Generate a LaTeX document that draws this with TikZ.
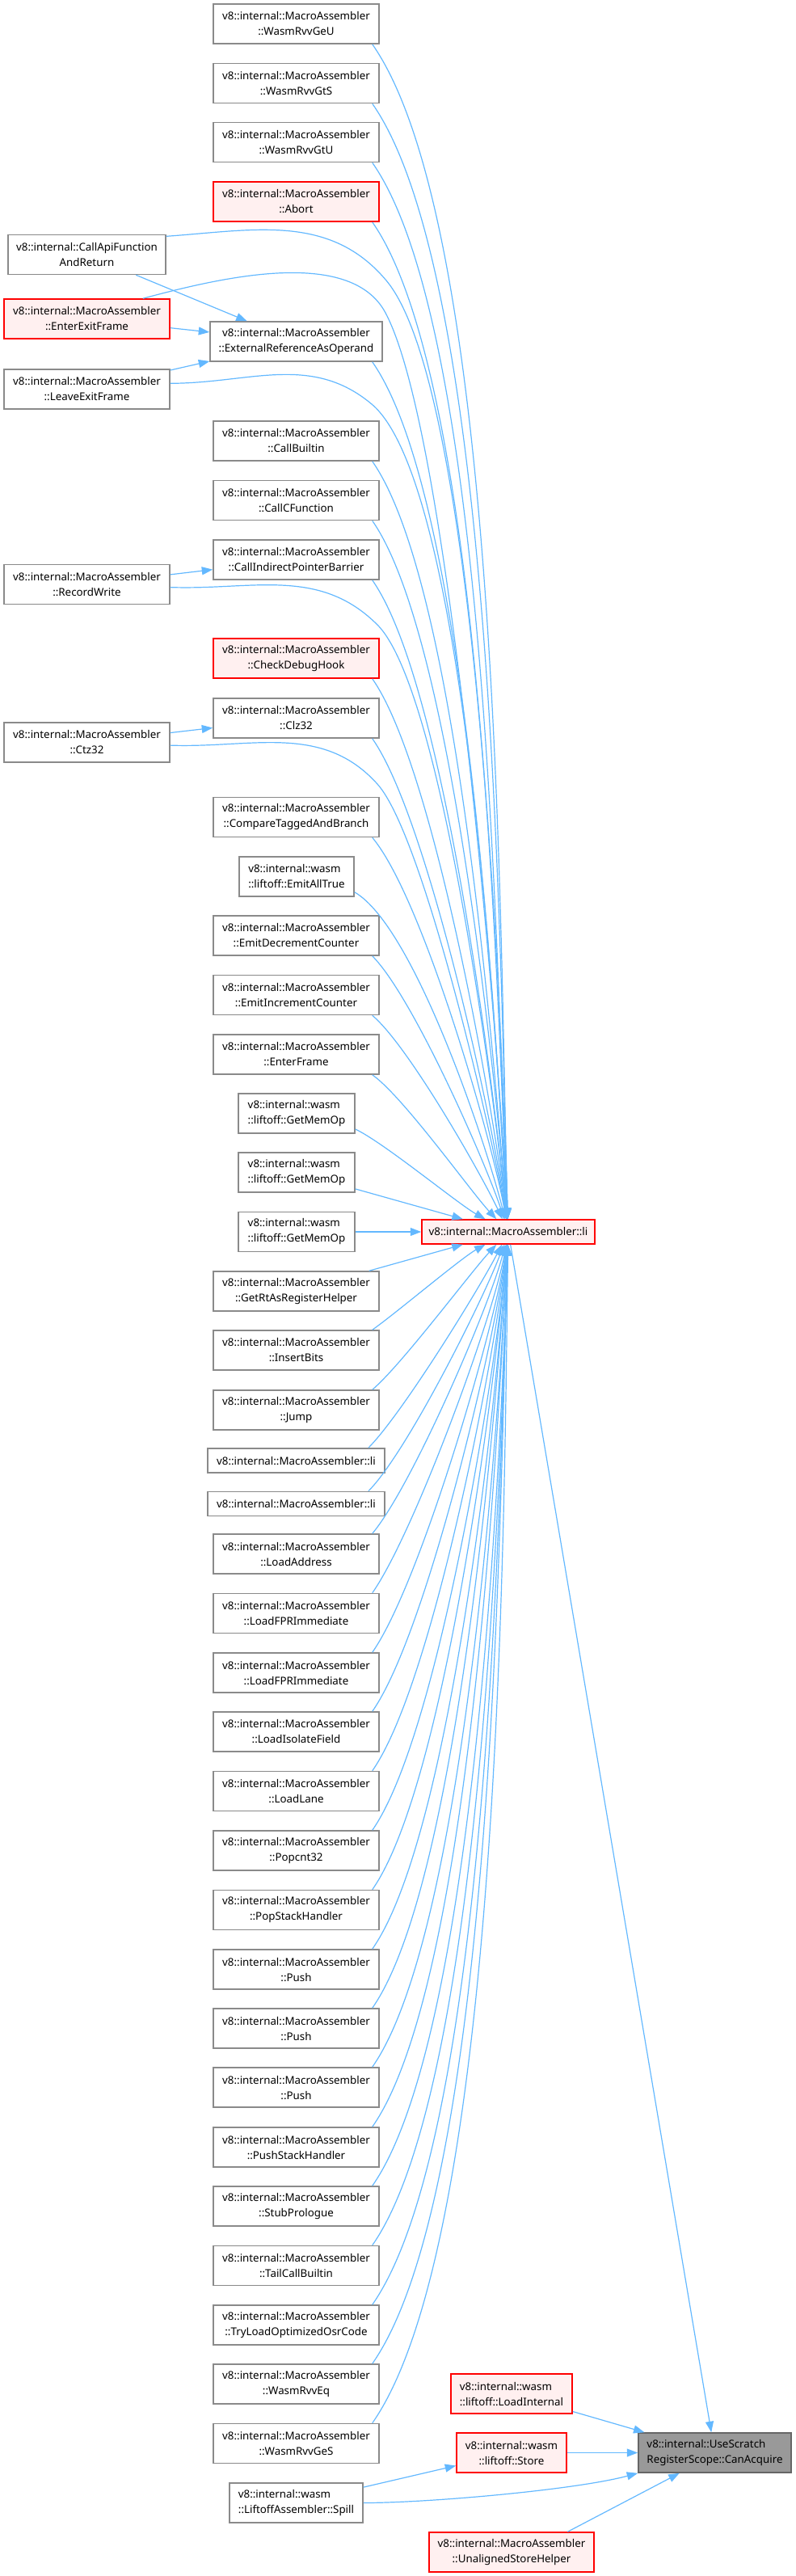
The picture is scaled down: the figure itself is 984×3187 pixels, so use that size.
\documentclass[tikz,border=0pt]{standalone}
\usepackage{fontspec}
\setmainfont{Noto Sans}
\usetikzlibrary{arrows.meta}
\definecolor{edgeblue}{HTML}{63B8FF}
\definecolor{boxline}{HTML}{8A8A8A}
\definecolor{hotline}{HTML}{FF0000}
\definecolor{hotfill}{HTML}{FFF0F0}
\definecolor{rootfill}{HTML}{999999}
\definecolor{rootline}{HTML}{666666}

\begin{document}
\begin{tikzpicture}[x=0.1pt,y=-0.1pt,fnbox/.style={draw=boxline,line width=0.15pt,fill=white,align=center,font=\fontsize{1.3333}{1.9}\selectfont,inner sep=0.15pt,minimum width=205*0.1pt,minimum height=49*0.1pt},wasmbox/.style={fnbox,align=left},onebox/.style={fnbox,minimum width=219*0.1pt,minimum height=30*0.1pt},hotbox/.style={fnbox,draw=hotline,fill=hotfill},rootbox/.style={fnbox,draw=rootline,fill=rootfill,align=left},edge/.style={draw=edgeblue,line width=0.12pt,-{Triangle[length=1.35pt,width=1pt]}}]
\useasboundingbox (0,0) rectangle (984,3187);
\node[fnbox] (geu) at (366.5,29.5) {v8::internal::MacroAssembler\\::WasmRvvGeU};
\node[fnbox] (gts) at (366.5,103) {v8::internal::MacroAssembler\\::WasmRvvGtS};
\node[fnbox] (gtu) at (366.5,176) {v8::internal::MacroAssembler\\::WasmRvvGtU};
\node[hotbox] (abort) at (366.5,249.5) {v8::internal::MacroAssembler\\::Abort};
\node[fnbox, minimum width=195*0.1pt] (callapi) at (107.5,315) {v8::internal::CallApiFunction\\AndReturn};
\node[hotbox] (enterexit) at (107.5,394.5) {v8::internal::MacroAssembler\\::EnterExitFrame};
\node[fnbox, minimum width=213*0.1pt] (extref) at (366.5,422.5) {v8::internal::MacroAssembler\\::ExternalReferenceAsOperand};
\node[fnbox] (leaveexit) at (107.5,481.5) {v8::internal::MacroAssembler\\::LeaveExitFrame};
\node[fnbox] (callbuiltin) at (366.5,545.5) {v8::internal::MacroAssembler\\::CallBuiltin};
\node[fnbox] (callcfn) at (366.5,619) {v8::internal::MacroAssembler\\::CallCFunction};
\node[fnbox] (cipb) at (366.5,692.5) {v8::internal::MacroAssembler\\::CallIndirectPointerBarrier};
\node[fnbox] (recordwrite) at (107.5,723) {v8::internal::MacroAssembler\\::RecordWrite};
\node[hotbox] (debughook) at (366.5,814.5) {v8::internal::MacroAssembler\\::CheckDebugHook};
\node[fnbox] (clz) at (366.5,888.5) {v8::internal::MacroAssembler\\::Clz32};
\node[fnbox] (ctz) at (107.5,918.5) {v8::internal::MacroAssembler\\::Ctz32};
\node[fnbox] (cmptagged) at (366.5,1011) {v8::internal::MacroAssembler\\::CompareTaggedAndBranch};
\node[wasmbox, minimum width=142*0.1pt] (alltrue) at (367,1084.5) {v8::internal::wasm\\::liftoff::EmitAllTrue};
\node[fnbox] (emitdec) at (366.5,1157.5) {v8::internal::MacroAssembler\\::EmitDecrementCounter};
\node[fnbox] (emitinc) at (366.5,1231) {v8::internal::MacroAssembler\\::EmitIncrementCounter};
\node[fnbox] (enterframe) at (366.5,1304.5) {v8::internal::MacroAssembler\\::EnterFrame};
\node[wasmbox, minimum width=144*0.1pt] (memopa) at (367,1377.5) {v8::internal::wasm\\::liftoff::GetMemOp};
\node[wasmbox, minimum width=144*0.1pt] (memopb) at (367,1450.5) {v8::internal::wasm\\::liftoff::GetMemOp};
\node[wasmbox, minimum width=144*0.1pt] (memopc) at (367,1524) {v8::internal::wasm\\::liftoff::GetMemOp};
\node[fnbox] (rtashelper) at (366.5,1597.5) {v8::internal::MacroAssembler\\::GetRtAsRegisterHelper};
\node[fnbox] (insertbits) at (366.5,1670.5) {v8::internal::MacroAssembler\\::InsertBits};
\node[fnbox] (jump) at (366.5,1744.5) {v8::internal::MacroAssembler\\::Jump};
\node[onebox] (lia) at (366.5,1807) {v8::internal::MacroAssembler::li};
\node[onebox] (lib) at (366.5,1860.5) {v8::internal::MacroAssembler::li};
\node[fnbox] (loadaddr) at (366.5,1922.5) {v8::internal::MacroAssembler\\::LoadAddress};
\node[fnbox] (fpra) at (366.5,1996) {v8::internal::MacroAssembler\\::LoadFPRImmediate};
\node[fnbox] (fprb) at (366.5,2069.5) {v8::internal::MacroAssembler\\::LoadFPRImmediate};
\node[fnbox] (isofield) at (366.5,2142.5) {v8::internal::MacroAssembler\\::LoadIsolateField};
\node[fnbox] (loadlane) at (366.5,2216) {v8::internal::MacroAssembler\\::LoadLane};
\node[fnbox] (popcnt) at (366.5,2289.5) {v8::internal::MacroAssembler\\::Popcnt32};
\node[fnbox] (popstack) at (366.5,2363) {v8::internal::MacroAssembler\\::PopStackHandler};
\node[fnbox] (pusha) at (366.5,2436.5) {v8::internal::MacroAssembler\\::Push};
\node[fnbox] (pushb) at (366.5,2509.5) {v8::internal::MacroAssembler\\::Push};
\node[fnbox] (pushc) at (366.5,2582.5) {v8::internal::MacroAssembler\\::Push};
\node[fnbox] (pushstack) at (366.5,2656.5) {v8::internal::MacroAssembler\\::PushStackHandler};
\node[fnbox] (stubpro) at (366.5,2729.5) {v8::internal::MacroAssembler\\::StubPrologue};
\node[fnbox] (tailcall) at (366.5,2803) {v8::internal::MacroAssembler\\::TailCallBuiltin};
\node[fnbox] (osrcode) at (366.5,2876.5) {v8::internal::MacroAssembler\\::TryLoadOptimizedOsrCode};
\node[fnbox] (rvveq) at (366.5,2949.5) {v8::internal::MacroAssembler\\::WasmRvvEq};
\node[fnbox] (rvvges) at (366.5,3023) {v8::internal::MacroAssembler\\::WasmRvvGeS};
\node[hotbox, minimum width=214*0.1pt, minimum height=30*0.1pt] (li) at (629,1524) {v8::internal::MacroAssembler::li};
\node[hotbox, align=left, minimum width=150*0.1pt] (loadinternal) at (633,2961.5) {v8::internal::wasm\\::liftoff::LoadInternal};
\node[hotbox, minimum width=136*0.1pt] (store) at (633,3034.5) {v8::internal::wasm\\::liftoff::Store};
\node[wasmbox, minimum width=165*0.1pt] (spill) at (366.5,3096.5) {v8::internal::wasm\\::LiftoffAssembler::Spill};
\node[hotbox, minimum width=204*0.1pt] (unaligned) at (633,3157.5) {v8::internal::MacroAssembler\\::UnalignedStoreHelper};
\node[rootbox, minimum width=189*0.1pt] (canacquire) at (884.5,3034.5) {v8::internal::UseScratch\\RegisterScope::CanAcquire};
\draw[edge] (geu.-15) to[out=-55,in=92,looseness=0.5] (li);
\draw[edge] (gts.-15) to[out=-55,in=92,looseness=0.5] (li);
\draw[edge] (gtu.-15) to[out=-55,in=93,looseness=0.5] (li);
\draw[edge] (abort.-15) to[out=-55,in=93,looseness=0.5] (li);
\draw[edge] (callapi.13) to[out=4,in=130] (478,347) to[out=-50,in=92,looseness=0.4] (li);
\draw[edge] (callapi) -- (extref);
\draw[edge] (enterexit.20) to[out=15,in=118,looseness=0.8] (477,387) to[out=-62,in=93,looseness=0.4] (li);
\draw[edge] (enterexit) -- (extref);
\draw[edge] (leaveexit.4) to[out=0,in=140] (460,500) to[out=-40,in=94,looseness=0.4] (li);
\draw[edge] (leaveexit) -- (extref);
\draw[edge] (extref.-15) to[out=-55,in=94,looseness=0.5] (li);
\draw[edge] (callbuiltin.-15) to[out=-55,in=95,looseness=0.5] (li);
\draw[edge] (callcfn.-15) to[out=-55,in=95,looseness=0.5] (li);
\draw[edge] (cipb.-15) to[out=-55,in=96,looseness=0.5] (li);
\draw[edge] (recordwrite.-2) to[out=-2,in=135] (467,773) to[out=-45,in=96,looseness=0.4] (li);
\draw[edge] (recordwrite) -- (cipb);
\draw[edge] (debughook.-15) to[out=-55,in=97,looseness=0.5] (li);
\draw[edge] (clz.-15) to[out=-55,in=98,looseness=0.5] (li);
\draw[edge] (ctz.-2) to[out=-2,in=132] (467,970) to[out=-48,in=99,looseness=0.4] (li);
\draw[edge] (ctz) -- (clz);
\draw[edge] (cmptagged.-15) to[out=-50,in=100,looseness=0.5] (li);
\draw[edge] (alltrue.-15) to[out=-30,in=104,looseness=0.5] (li);
\draw[edge] (emitdec.-15) to[out=-45,in=108,looseness=0.5] (li);
\draw[edge] (emitinc.-15) to[out=-40,in=115,looseness=0.5] (li);
\draw[edge] (enterframe.-15) to[out=-35,in=133,looseness=0.5] (li);
\draw[edge] (memopa.-15) to[out=-25,in=151,looseness=0.5] (li);
\draw[edge] (memopb) -- (li);
\draw[edge] (memopc) -- (li);
\draw[edge] (rtashelper) -- (li);
\draw[edge] (insertbits.15) to[out=35,in=-151,looseness=0.5] (li);
\draw[edge] (jump.15) to[out=40,in=-133,looseness=0.5] (li);
\draw[edge] (lia.10) to[out=45,in=-117,looseness=0.5] (li);
\draw[edge] (lib.10) to[out=45,in=-110,looseness=0.5] (li);
\draw[edge] (loadaddr.15) to[out=50,in=-104,looseness=0.5] (li);
\draw[edge] (fpra.15) to[out=55,in=-100,looseness=0.5] (li);
\draw[edge] (fprb.15) to[out=55,in=-98,looseness=0.5] (li);
\draw[edge] (isofield.15) to[out=55,in=-97,looseness=0.5] (li);
\draw[edge] (loadlane.15) to[out=55,in=-96,looseness=0.5] (li);
\draw[edge] (popcnt.15) to[out=55,in=-95,looseness=0.5] (li);
\draw[edge] (popstack.15) to[out=55,in=-95,looseness=0.5] (li);
\draw[edge] (pusha.15) to[out=55,in=-94,looseness=0.5] (li);
\draw[edge] (pushb.15) to[out=55,in=-94,looseness=0.5] (li);
\draw[edge] (pushc.15) to[out=55,in=-93,looseness=0.5] (li);
\draw[edge] (pushstack.15) to[out=55,in=-93,looseness=0.5] (li);
\draw[edge] (stubpro.15) to[out=55,in=-92,looseness=0.5] (li);
\draw[edge] (tailcall.15) to[out=55,in=-92,looseness=0.5] (li);
\draw[edge] (osrcode.15) to[out=55,in=-92,looseness=0.5] (li);
\draw[edge] (rvveq.15) to[out=55,in=-92,looseness=0.5] (li);
\draw[edge] (rvvges.15) to[out=55,in=-91,looseness=0.5] (li);
\draw[edge] (li) -- (canacquire);
\draw[edge] (loadinternal) -- (canacquire);
\draw[edge] (store) -- (canacquire);
\draw[edge] (spill) -- (store);
\draw[edge] (spill.east) to[out=0,in=-165,looseness=0.6] (canacquire.south west);
\draw[edge] (unaligned.20) -- (canacquire.-150);
\end{tikzpicture}
\end{document}
